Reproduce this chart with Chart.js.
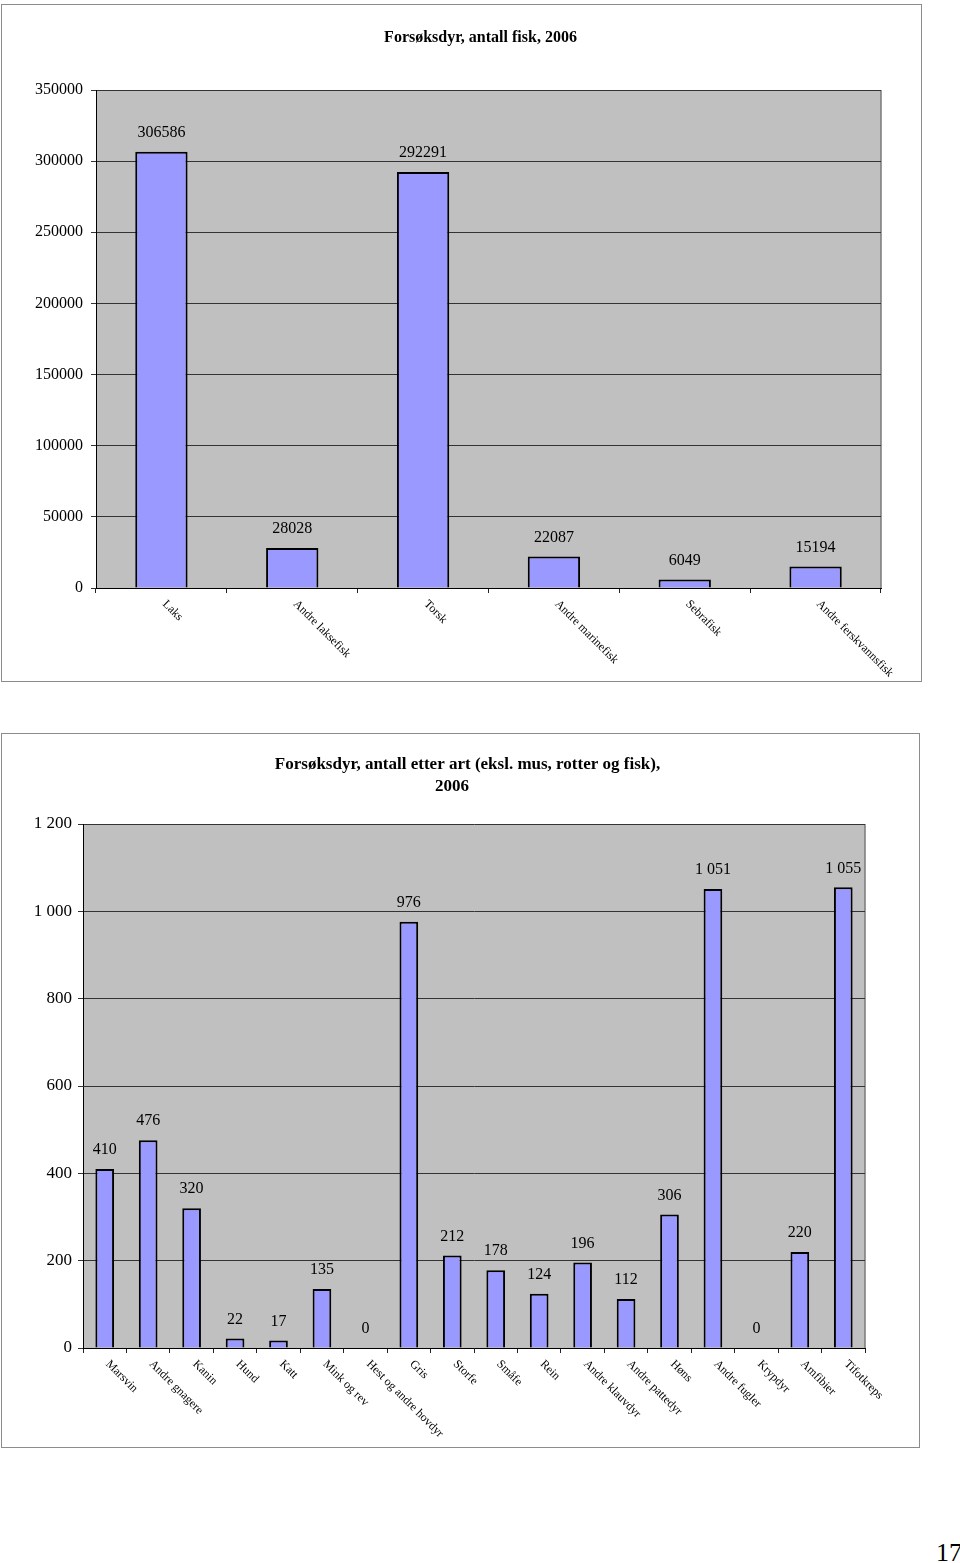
<!DOCTYPE html>
<html>
<head>
<meta charset="utf-8">
<title>Forsøksdyr 2006</title>
<script src="https://cdn.jsdelivr.net/npm/chart.js@4.4.1/dist/chart.umd.min.js"></script>
<style>
  body { margin: 0; background: #fff; width: 960px; height: 1563px; position: relative; overflow: hidden;
         font-family: "Liberation Serif", "Times New Roman", serif; }
  .frame { position: absolute; border: 1px solid #8c8c8c; }
  canvas { position: absolute; left: 0; }
  #pageNo { position: absolute; left: 936px; top: 1540px; font-size: 26px; line-height: 26px; color: #000; }
</style>
</head>
<body>
<div class="frame" style="left:1px;top:4px;width:919px;height:676px"></div>
<div class="frame" style="left:1px;top:733px;width:917px;height:713px"></div>
<canvas id="fishChart" width="960" height="700" style="top:0"></canvas>
<canvas id="speciesChart" width="960" height="760" style="top:720px"></canvas>
<div id="pageNo">17</div>
<script>
// chart 1 - fisk
const fishTitle = ["Forsøksdyr, antall fisk, 2006"];
const fishLabels = ["Laks", "Andre laksefisk", "Torsk", "Andre marinefisk", "Sebrafisk", "Andre ferskvannsfisk"];
const fishCounts = [306586, 28028, 292291, 22087, 6049, 15194];
const fishAxisMax = 350000;
const fishAxisStep = 50000;

// chart 2 - andre arter
const speciesTitle = ["Forsøksdyr, antall etter art (eksl. mus, rotter og fisk),", "2006"];
const speciesLabels = ["Marsvin", "Andre gnagere", "Kanin", "Hund", "Katt", "Mink og rev",
  "Hest og andre hovdyr", "Gris", "Storfe", "Småfe", "Rein", "Andre klauvdyr",
  "Andre pattedyr", "Høns", "Andre fugler", "Krypdyr", "Amfibier", "Tifotkreps"];
const speciesCounts = [410, 476, 320, 22, 17, 135, 0, 976, 212, 178, 124, 196, 112, 306, 1051, 0, 220, 1055];
const speciesAxisMax = 1200;
const speciesAxisStep = 200;

const serif = '"Liberation Serif", "Times New Roman", serif';
Chart.defaults.font.family = serif;
Chart.defaults.color = '#000';

function plain(v) {
  return String(v);
}

function spaced(v) {
  return String(v).replace(/\B(?=(\d{3})+(?!\d))/g, ' ');
}

// grey plot area + right edge
const plotBackground = {
  id: 'plotBackground',
  beforeDraw(chart) {
    const { ctx, chartArea: a } = chart;
    ctx.save();
    ctx.fillStyle = '#c0c0c0';
    ctx.fillRect(a.left, a.top, a.width, a.height);
    ctx.strokeStyle = '#7a7a7a';
    ctx.lineWidth = 1.5;
    ctx.beginPath();
    ctx.moveTo(a.right, a.top);
    ctx.lineTo(a.right, a.bottom);
    ctx.stroke();
    ctx.restore();
  }
};

// title is not centred on the frame in the original, so it is placed by hand
function heading(lines, size, spots) {
  return {
    id: 'heading',
    afterDraw(chart) {
      const { ctx } = chart;
      ctx.save();
      ctx.font = 'bold ' + size + 'px ' + serif;
      ctx.fillStyle = '#000';
      ctx.textAlign = 'center';
      ctx.textBaseline = 'middle';
      lines.forEach((line, i) => ctx.fillText(line, spots[i][0], spots[i][1]));
      ctx.restore();
    }
  };
}

function valueLabels(format) {
  return {
    id: 'valueLabels',
    afterDatasetsDraw(chart) {
      const { ctx } = chart;
      const values = chart.data.datasets[0].data;
      ctx.save();
      ctx.font = '16px ' + serif;
      ctx.fillStyle = '#000';
      ctx.textAlign = 'center';
      ctx.textBaseline = 'middle';
      chart.getDatasetMeta(0).data.forEach((bar, i) => {
        ctx.fillText(format(values[i]), bar.x, bar.y - 19);
      });
      ctx.restore();
    }
  };
}

// category names slanting down to the right
const slantedLabels = {
  id: 'slantedLabels',
  afterDraw(chart) {
    const { ctx } = chart;
    const xs = chart.scales.x;
    ctx.save();
    ctx.font = '12px ' + serif;
    ctx.fillStyle = '#000';
    ctx.textAlign = 'left';
    ctx.textBaseline = 'top';
    chart.data.labels.forEach((lab, i) => {
      ctx.save();
      ctx.translate(xs.getPixelForValue(i) + 7, xs.top + 10);
      ctx.rotate(Math.PI / 4);
      ctx.fillText(lab, 0, 0);
      ctx.restore();
    });
    ctx.restore();
  }
};

function makeConfig(labels, values, opts) {
  return {
    type: 'bar',
    data: {
      labels,
      datasets: [{
        data: values,
        backgroundColor: '#9999ff',
        borderColor: '#000',
        borderWidth: 2,
        barPercentage: opts.barPct,
        categoryPercentage: 1
      }]
    },
    options: {
      responsive: false,
      animation: false,
      layout: { padding: { left: 0, right: opts.padRight, top: opts.padTop, bottom: 0 } },
      plugins: {
        legend: { display: false },
        tooltip: { enabled: false },
        title: { display: false }
      },
      scales: {
        x: {
          ticks: { display: false },
          grid: { drawOnChartArea: false, tickLength: 5, color: '#222' },
          border: { color: '#000', width: 1 },
          afterFit: s => { s.height = opts.xHeight; }
        },
        y: {
          min: 0,
          max: opts.max,
          ticks: { stepSize: opts.step, callback: v => opts.format(v), font: { size: opts.tickSize }, color: '#000', padding: opts.tickPad },
          grid: { color: '#333', tickLength: 5 },
          border: { color: '#000', width: 1 },
          afterFit: s => { s.width = opts.yWidth; }
        }
      }
    },
    plugins: [plotBackground, valueLabels(opts.format), slantedLabels, heading(opts.title, opts.titleSize, opts.titleSpots)]
  };
}

new Chart(document.getElementById('fishChart'), makeConfig(fishLabels, fishCounts, {
  title: fishTitle, titleSize: 16, titleSpots: [[480.5, 38]],
  padTop: 90, padRight: 79, yWidth: 96, xHeight: 112, tickPad: 8, tickSize: 16,
  max: fishAxisMax, step: fishAxisStep, barPct: 0.4, format: plain
}));

new Chart(document.getElementById('speciesChart'), makeConfig(speciesLabels, speciesCounts, {
  title: speciesTitle, titleSize: 17, titleSpots: [[467.5, 44.5], [452, 66.5]],
  padTop: 104, padRight: 95, yWidth: 83, xHeight: 132, tickPad: 6, tickSize: 17,
  max: speciesAxisMax, step: speciesAxisStep, barPct: 0.43, format: spaced
}));
</script>
</body>
</html>
